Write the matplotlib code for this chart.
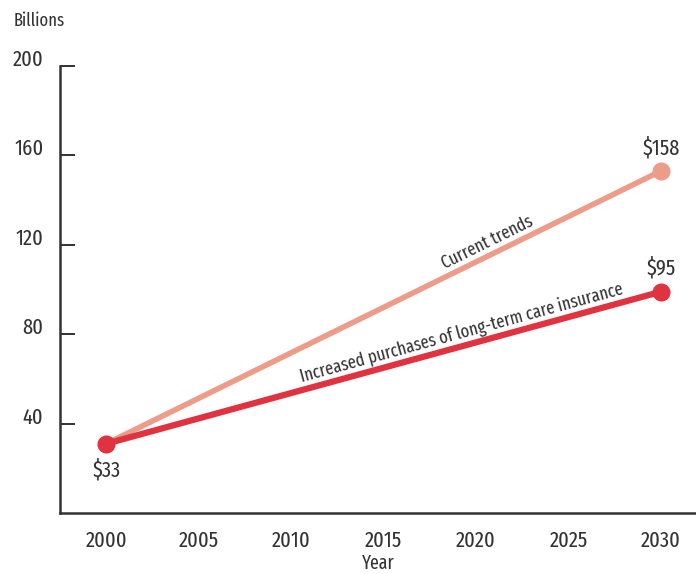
import matplotlib
matplotlib.use('Agg')
import matplotlib.pyplot as plt
import numpy as np

plt.rcParams['font.family'] = ['Fira Sans Extra Condensed', 'Roboto Condensed', 'DejaVu Sans']

years = [2000, 2030]
current = [31, 153]
insured = [31, 99]
start_label = '$33'
end_labels = ['$158', '$95']
yticks = [40, 80, 120, 160, 200]
xticks = [2000, 2005, 2010, 2015, 2020, 2025, 2030]

c_cur = '#ee9c8a'
c_ins = '#e0323f'
txt = '#333333'

fig = plt.figure(figsize=(6.96, 5.74), dpi=100)
ax = fig.add_axes([60/696, 61/574, 636/696, 447/574])
ax.set_xlim(1997.5, 2031.9)
ax.set_ylim(0, 200)

ax.plot(years, current, color=c_cur, lw=4, solid_capstyle='round', zorder=2)
ax.plot(years, insured, color=c_ins, lw=4.5, solid_capstyle='round', zorder=3)
ax.plot(years[1], current[1], 'o', ms=12, color=c_cur, zorder=4)
ax.plot(years, insured, 'o', ms=12, color=c_ins, zorder=5)

# value labels
ax.annotate(start_label, (years[0], insured[0]), xytext=(0, -19), textcoords='offset points',
            ha='center', va='center', fontsize=16, color=txt)
ax.annotate(end_labels[0], (years[1], current[1]), xytext=(0, 17), textcoords='offset points',
            ha='center', va='center', fontsize=16, color=txt)
ax.annotate(end_labels[1], (years[1], insured[1]), xytext=(0, 17), textcoords='offset points',
            ha='center', va='center', fontsize=16, color=txt)

# line labels along the lines
def along(x, ys, text, off):
    slope = (ys[1] - ys[0]) / (years[1] - years[0])
    y = ys[0] + slope * (x - years[0])
    p0 = ax.transData.transform((x, y))
    p1 = ax.transData.transform((x + 1, y + slope))
    a = np.degrees(np.arctan2(p1[1] - p0[1], p1[0] - p0[0]))
    nx, ny = -np.sin(np.radians(a)), np.cos(np.radians(a))
    ax.annotate(text, (x, y), xytext=(nx * off, ny * off), textcoords='offset points',
                ha='center', va='bottom', rotation=a, rotation_mode='anchor',
                fontsize=13, color=txt)

along(2020.9, current, 'Current trends', 3)
along(2019.4, insured, 'Increased purchases of long-term care insurance', 3)

for s in ['top', 'right']:
    ax.spines[s].set_visible(False)
for s in ['left', 'bottom']:
    ax.spines[s].set_color('#333333')
    ax.spines[s].set_linewidth(1.8)

ax.set_yticks(yticks)
ax.set_xticks(xticks)
ax.tick_params(axis='y', direction='in', length=11, width=1.3, color='#222222',
               pad=12, labelsize=16, labelcolor=txt)
ax.tick_params(axis='x', length=0, pad=12, labelsize=16, labelcolor=txt)
for lab in ax.get_yticklabels():
    lab.set_va('baseline')

fig.text(14/696, 1 - 21/574, 'Billions', ha='left', va='center', fontsize=13, color=txt)
ax.set_xlabel('Year', fontsize=14, color=txt, labelpad=2)

fig.savefig('out.png', dpi=100)
